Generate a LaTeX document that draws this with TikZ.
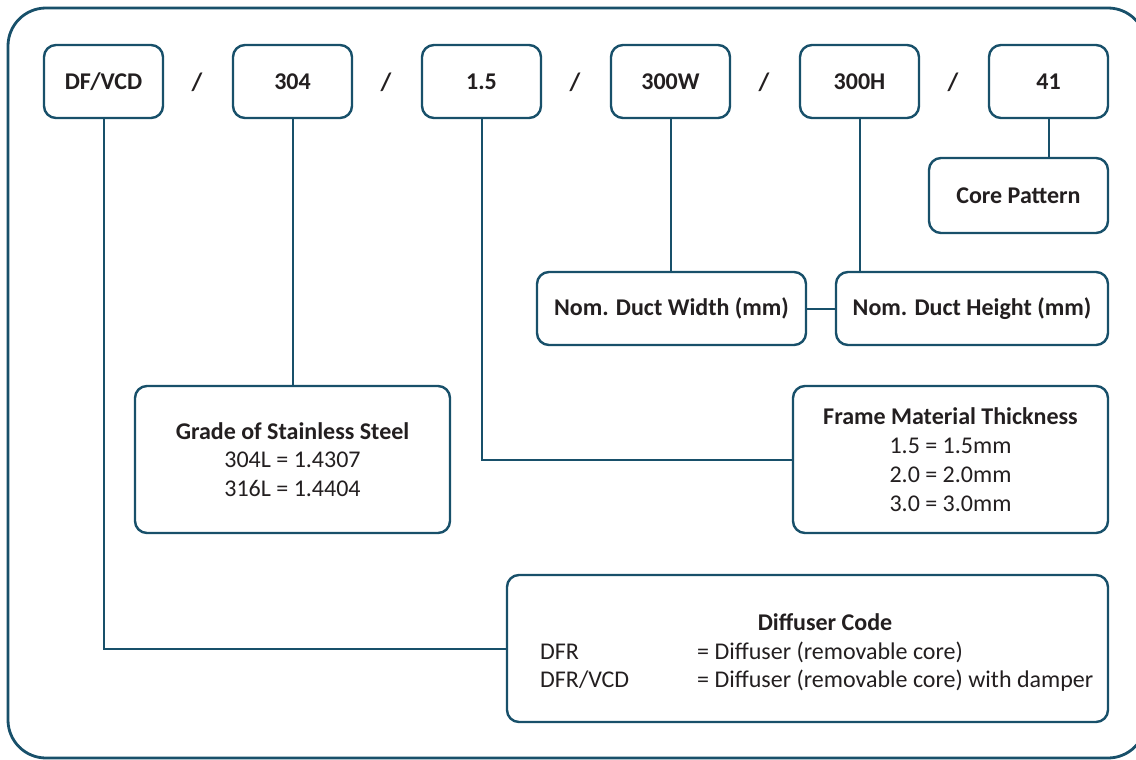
\documentclass[tikz,border=0pt]{standalone}
\usepackage{fontspec}
\setmainfont{Carlito}
\definecolor{teal}{RGB}{24,80,106}
\definecolor{txt}{RGB}{35,31,32}
\begin{document}
\begin{tikzpicture}[x=1pt,y=-1pt,
  box/.style={draw=teal,line width=2.4pt,rounded corners=12pt,fill=white,text=txt,font=\fontsize{24}{28.8}\selectfont,align=center,inner sep=0pt},
  code/.style={box,minimum width=119pt,minimum height=73pt,font=\fontsize{24}{28}\selectfont\bfseries},
  slash/.style={text=txt,font=\fontsize{25}{28}\selectfont\bfseries},
  conn/.style={draw=teal,line width=2pt},
  plain/.style={text=txt,font=\fontsize{24}{28}\selectfont,inner sep=0pt,anchor=base west}]
\useasboundingbox (0,0) rectangle (1136,760);
\begin{scope}
\clip (0,0) rectangle (1136,760);
\draw[teal,line width=2.8pt,rounded corners=38pt] (8,8) rectangle (1146,758);
\end{scope}
% top code boxes
\node[code] (c1) at (103.5,81.5) {DF/VCD};
\node[code] (c2) at (292.5,81.5) {304};
\node[code] (c3) at (481.5,81.5) {1.5};
\node[code] (c4) at (670.5,81.5) {300W};
\node[code] (c5) at (859.5,81.5) {300H};
\node[code] (c6) at (1048.5,81.5) {41};
\node[slash] (s1) at (197,82) {/};
\node[slash] (s2) at (386,82) {/};
\node[slash] (s3) at (575,82) {/};
\node[slash] (s4) at (764,82) {/};
\node[slash] (s5) at (953,82) {/};
% description boxes
\node[box,minimum width=179pt,minimum height=75pt,font=\fontsize{24}{28}\selectfont\bfseries] (core) at (1018.5,195.5) {Core Pattern};
\node[box,minimum width=269pt,minimum height=73pt,font=\fontsize{24}{28}\selectfont\bfseries] (wid) at (671.5,308.5) {Nom. Duct Width (mm)};
\node[box,minimum width=272pt,minimum height=73pt,font=\fontsize{24}{28}\selectfont\bfseries] (hei) at (972,308.5) {Nom. Duct Height (mm)};
\node[box,minimum width=315pt,minimum height=147pt] (grade) at (292.5,459.5) {\textbf{Grade of Stainless Steel}\\304L = 1.4307\\316L = 1.4404};
\node[box,minimum width=315pt,minimum height=147pt] (frame) at (950.5,459.5) {\textbf{Frame Material Thickness}\\1.5 = 1.5mm\\2.0 = 2.0mm\\3.0 = 3.0mm};
\node[box,minimum width=601pt,minimum height=147pt] (diff) at (807.5,648.5) {};
\node[text=txt,font=\fontsize{24}{28}\selectfont\bfseries,inner sep=0pt,anchor=base] (dt) at (825,630) {Diffuser Code};
\node[plain] (d1) at (540,659) {DFR};
\node[plain] (d2) at (540,687) {DFR/VCD};
\node[plain] (e1) at (697,659) {= Diffuser (removable core)};
\node[plain] (e2) at (697,687) {= Diffuser (removable core) with damper};
% connectors
\draw[conn] (c1.south) |- (diff.west);
\draw[conn] (c2.south) -- (grade.north);
\draw[conn] (c3.south) |- (frame.west);
\draw[conn] (c4.south) -- (c4.south |- wid.north);
\draw[conn] (c5.south) -- (c5.south |- hei.north);
\draw[conn] (c6.south) -- (c6.south |- core.north);
\draw[conn] (wid.east) -- (hei.west);
\end{tikzpicture}
\end{document}
